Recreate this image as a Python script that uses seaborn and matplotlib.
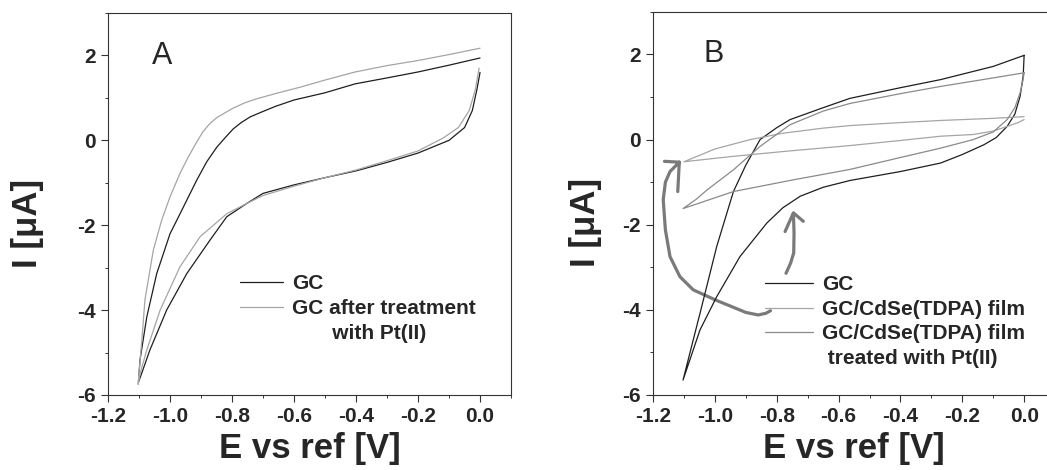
import numpy as np
import pandas as pd
import matplotlib
matplotlib.use("Agg")
import matplotlib.pyplot as plt
import seaborn as sns
from matplotlib.lines import Line2D
from matplotlib.path import Path
from matplotlib.patches import PathPatch
from matplotlib.ticker import MultipleLocator, FormatStrFormatter

# ---------------- data ----------------
# Panel A: GC (black) cyclic voltammogram, lower branch then upper branch
A_gc_x = [0.0, -0.01, -0.025, -0.05, -0.1, -0.2, -0.3, -0.4, -0.5, -0.6, -0.7, -0.753,
          -0.817, -0.871, -0.946, -1.011, -1.065, -1.092, -1.102,
          -1.097, -1.075, -1.043, -1.0, -0.978, -0.946, -0.914, -0.882, -0.849, -0.82, -0.796,
          -0.77, -0.742, -0.71, -0.66, -0.6, -0.5, -0.403, -0.3, -0.2, -0.1, 0.0]
A_gc_y = [1.6, 1.2, 0.7, 0.3, 0.0, -0.3, -0.52, -0.72, -0.88, -1.05, -1.25, -1.49,
          -1.8, -2.35, -3.14, -4.0, -4.94, -5.5, -5.7,
          -5.18, -4.16, -3.14, -2.2, -1.88, -1.41, -0.94, -0.51, -0.16, 0.08, 0.27,
          0.42, 0.55, 0.65, 0.8, 0.95, 1.12, 1.33, 1.47, 1.61, 1.77, 1.94]
# Panel A: GC after treatment with Pt(II) (gray)
A_pt_x = [-0.003, -0.015, -0.035, -0.07, -0.12, -0.2, -0.3, -0.4, -0.5, -0.6, -0.7, -0.753,
          -0.817, -0.903, -0.968, -1.032, -1.075, -1.097, -1.103,
          -1.102, -1.091, -1.081, -1.054, -1.027, -1.0, -0.968, -0.941, -0.914, -0.894, -0.871,
          -0.85, -0.82, -0.796, -0.76, -0.72, -0.65, -0.581, -0.5, -0.403, -0.3, -0.2, -0.1, 0.0]
A_pt_y = [1.7, 1.2, 0.7, 0.3, 0.05, -0.25, -0.48, -0.7, -0.88, -1.08, -1.3, -1.49,
          -1.73, -2.27, -2.98, -4.0, -4.94, -5.5, -5.75,
          -5.65, -4.71, -3.76, -2.59, -1.88, -1.33, -0.78, -0.39, -0.04, 0.2, 0.4,
          0.53, 0.66, 0.76, 0.88, 0.98, 1.12, 1.25, 1.42, 1.61, 1.76, 1.88, 2.02, 2.17]

# Panel B: GC (black)
B_gc_x = [0.0, -0.003, -0.013, -0.03, -0.055, -0.09, -0.13, -0.2, -0.27, -0.4, -0.563, -0.65,
          -0.724, -0.78, -0.832, -0.919, -0.994, -1.048, -1.103,
          -1.075, -1.048, -0.994, -0.94, -0.9, -0.854, -0.8, -0.757, -0.65, -0.563,
          -0.4, -0.27, -0.1, 0.0]
B_gc_y = [1.98, 1.5, 1.02, 0.6, 0.31, 0.05, -0.12, -0.35, -0.55, -0.75, -0.96, -1.12,
          -1.33, -1.6, -1.96, -2.75, -3.69, -4.47, -5.65,
          -4.85, -4.08, -2.51, -1.22, -0.6, 0.0, 0.28, 0.47, 0.75, 0.97,
          1.22, 1.41, 1.72, 1.98]
# Panel B: GC/CdSe(TDPA) film (light gray)
B_film_x = [0.0, -0.02, -0.055, -0.1, -0.165, -0.27, -0.4, -0.563, -0.78, -0.95, -1.1,
            -1.0, -0.886, -0.78, -0.65, -0.563, -0.4, -0.27, -0.1, 0.0]
B_film_y = [0.47, 0.4, 0.31, 0.2, 0.12, 0.08, -0.02, -0.14, -0.28, -0.4, -0.52,
            -0.22, 0.0, 0.15, 0.27, 0.33, 0.4, 0.45, 0.5, 0.54]
# Panel B: GC/CdSe(TDPA) film treated with Pt(II) (mid gray)
B_pt_x = [0.0, -0.005, -0.013, -0.03, -0.055, -0.1, -0.165, -0.27, -0.4, -0.563, -0.75, -0.94,
          -1.103, -1.06, -1.025, -0.94, -0.854, -0.757, -0.65, -0.563, -0.4, -0.27, -0.1, 0.0]
B_pt_y = [1.57, 1.35, 1.1, 0.75, 0.47, 0.18, 0.0, -0.2, -0.42, -0.7, -0.95, -1.22,
          -1.62, -1.4, -1.18, -0.71, -0.16, 0.35, 0.67, 0.85, 1.08, 1.25, 1.45, 1.57]

# hand-drawn arrows in panel B (stroke, then the two barbs through the tip)
arrow1_x = [-0.82, -0.835, -0.86, -0.9, -0.93, -0.994, -1.07, -1.113, -1.145, -1.16, -1.167, -1.16, -1.145, -1.115]
arrow1_y = [-4.02, -4.08, -4.12, -4.06, -3.97, -3.78, -3.53, -3.22, -2.75, -2.12, -1.41, -1.0, -0.75, -0.53]
arrow1_head_x = [-1.163, -1.115, -1.12]
arrow1_head_y = [-0.51, -0.53, -1.22]
arrow2_x = [-0.77, -0.755, -0.745, -0.744, -0.746]
arrow2_y = [-3.14, -2.9, -2.66, -2.19, -1.74]
arrow2_head_x = [-0.773, -0.746, -0.714]
arrow2_head_y = [-2.16, -1.72, -1.92]

A_labels = ["GC", "GC after treatment", "       with Pt(II)"]
B_labels = ["GC", "GC/CdSe(TDPA) film", "GC/CdSe(TDPA) film", " treated with Pt(II)"]
x_label = "E vs ref [V]"
y_label = "I [\u03bcA]"

# ---------------- style ----------------
sns.set_style("ticks")
plt.rcParams["font.family"] = ["Liberation Sans", "DejaVu Sans"]
plt.rcParams["font.weight"] = "bold"
plt.rcParams["axes.unicode_minus"] = False

fig = plt.figure(figsize=(10.47, 4.70), dpi=100)
axA = fig.add_axes([0.1032, 0.1596, 0.3849, 0.8128])
axB = fig.add_axes([0.6237, 0.1596, 0.3840, 0.8150])

C_BLACK = "#1e1e1e"
C_LIGHT = "#a5a5a5"
C_MID = "#8a8a8a"
LW = 0.9


def cv(ax, xs, ys, color):
    df = pd.DataFrame({"E": xs, "I": ys})
    sns.lineplot(data=df, x="E", y="I", sort=False, estimator=None, ax=ax,
                 color=color, lw=LW, legend=False)
    return ax.lines[-1]


lA1 = cv(axA, A_gc_x, A_gc_y, C_BLACK)
lA2 = cv(axA, A_pt_x, A_pt_y, C_LIGHT)
lB1 = cv(axB, B_gc_x, B_gc_y, C_BLACK)
lB2 = cv(axB, B_film_x, B_film_y, C_LIGHT)
lB3 = cv(axB, B_pt_x, B_pt_y, C_MID)

# hand-drawn arrows
for sx, sy, hx, hy in [(arrow1_x, arrow1_y, arrow1_head_x, arrow1_head_y),
                       (arrow2_x, arrow2_y, arrow2_head_x, arrow2_head_y)]:
    verts = list(zip(sx, sy)) + list(zip(hx, hy))
    codes = [Path.MOVETO] + [Path.LINETO] * (len(sx) - 1) + [Path.MOVETO] + [Path.LINETO] * (len(hx) - 1)
    axB.add_patch(PathPatch(Path(verts, codes), fill=False, edgecolor="#7a7a7a",
                            lw=2.3, capstyle="round", joinstyle="round"))

for ax in (axA, axB):
    ax.set_xlim(-1.2, 0.1)
    ax.set_ylim(-6, 3)
    ax.xaxis.set_major_locator(MultipleLocator(0.2))
    ax.xaxis.set_minor_locator(MultipleLocator(0.1))
    ax.xaxis.set_major_formatter(FormatStrFormatter("%.1f"))
    ax.yaxis.set_major_locator(MultipleLocator(2))
    ax.yaxis.set_minor_locator(MultipleLocator(1))
    ax.tick_params(which="major", direction="out", length=5, width=0.8, pad=4,
                   labelsize=15, top=False, right=False, color="#333333")
    ax.tick_params(which="minor", direction="out", length=2.5, width=0.7,
                   top=False, right=False, color="#333333")
    for s in ax.spines.values():
        s.set_linewidth(0.8)
        s.set_color("#333333")
        s.set_visible(True)
    ax.set_xlabel(x_label, fontsize=25, fontweight="bold", labelpad=4)
    ax.set_ylabel(y_label, fontsize=25, fontweight="bold")

axA.yaxis.set_label_coords(-0.2, 0.45)
axB.yaxis.set_label_coords(-0.167, 0.45)
axA.yaxis.label.set_va("center")
axB.yaxis.label.set_va("center")

axA.text(-1.024, 1.8, "A", fontsize=22, fontweight="normal", ha="center", va="baseline")
axB.text(-1.003, 1.82, "B", fontsize=22, fontweight="normal", ha="center", va="baseline")

blank = Line2D([], [], color="none")
axA.legend([lA1, lA2, blank], A_labels, loc="upper left", bbox_to_anchor=(0.327, 0.317),
           frameon=False, fontsize=15, handlelength=2.07, handletextpad=0.45,
           labelspacing=0.3, borderpad=0, borderaxespad=0)
axB.legend([lB1, lB2, lB3, blank], B_labels, loc="upper left", bbox_to_anchor=(0.279, 0.312),
           frameon=False, fontsize=15, handlelength=2.3, handletextpad=0.45,
           labelspacing=0.26, borderpad=0, borderaxespad=0)

fig.savefig("out.png", dpi=100)
